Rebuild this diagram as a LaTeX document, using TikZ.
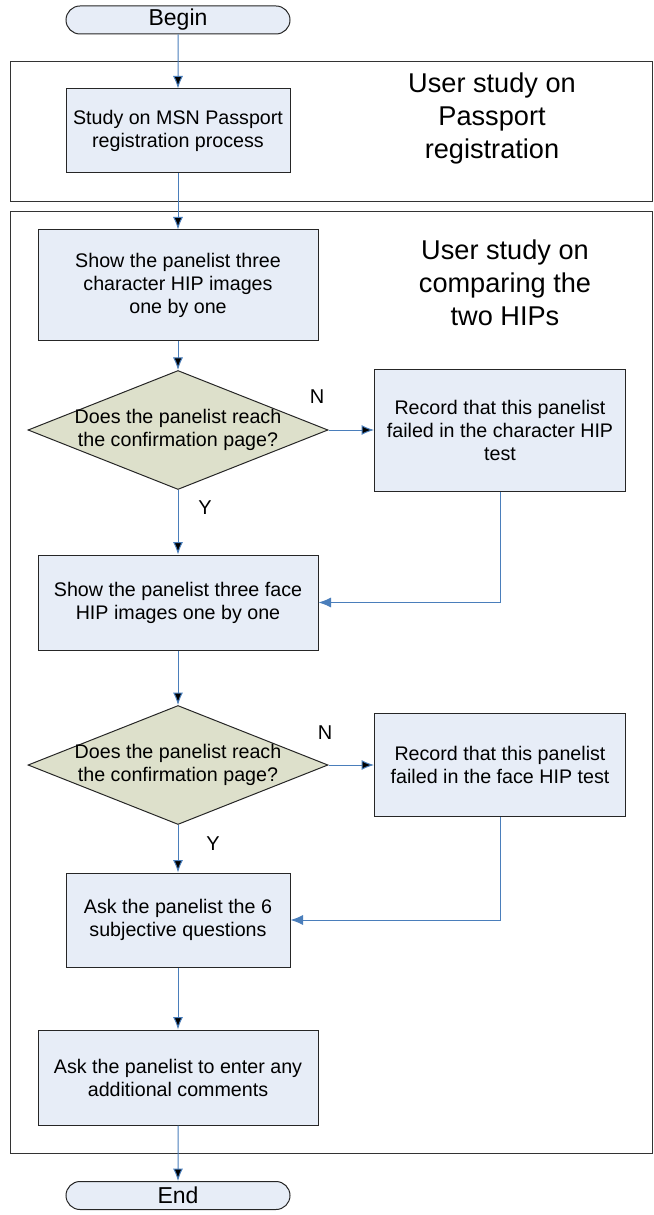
\documentclass[tikz,border=0pt]{standalone}
\usepackage{fontspec}
\setmainfont{Liberation Sans}
\usepackage{xcolor}
\usepackage{tikz}
\usetikzlibrary{arrows.meta}
\usetikzlibrary{shapes.geometric,shapes.misc}
\usetikzlibrary{positioning}
\definecolor{boxfill}{HTML}{E7EDF7}
\definecolor{testfill}{HTML}{DDE0CB}
\definecolor{flowblue}{HTML}{4A7EBB}

\begin{document}
\begin{tikzpicture}[x=0.6pt,y=-0.6pt,>={Latex[length=7.5pt,width=6pt]}]
 				 \tikzstyle{term}=[draw=black!85, line width=0.6pt, fill=boxfill, rounded rectangle, minimum width=134.4pt, minimum height=16.8pt, inner sep=0pt, font=\fontsize{13.8}{16}\selectfont]
 				 \tikzstyle{proc}=[draw=black!85, line width=0.6pt, fill=boxfill, rectangle, align=center, inner sep=0pt, font=\fontsize{11.8}{13.8}\selectfont]
 				 \tikzstyle{test}=[draw=black!85, line width=0.6pt, fill=testfill, diamond, minimum width=180pt, minimum height=71.4pt, inner sep=0pt]
 				 \tikzstyle{title}=[align=center, font=\fontsize{16.3}{19.8}\selectfont]
 				 \tikzstyle{yn}=[font=\fontsize{12}{14}\selectfont]
 				 \tikzstyle{flow}=[draw=flowblue, line width=0.6pt, ->]
 				 \tikzstyle{frame}=[draw=black!80, line width=0.6pt]
 				 \useasboundingbox (0,0) rectangle (653,1215);
 				 % the two study frames
 				 \draw[frame] (10,62) rectangle (652,202);
 				 \draw[frame] (10,212) rectangle (652,1153);
 					 \node[term]		  (begin) at (178,20) {Begin};
 					 \node[proc, minimum width=134.4pt, minimum height=50.4pt] (msn) at (178,131) {Study on MSN Passport\\registration process};
 					 \node[title]		  (title1) at (492,118) {User study on\\Passport\\registration};
 					 \node[proc, minimum width=168pt, minimum height=66.6pt] (charimg) at (178,285.5) {Show the panelist three\\character HIP images\\one by one};
 					 \node[title]		  (title2) at (505,283) {User study on\\comparing the\\two HIPs};
 					 \node[test, label={[align=center, font=\fontsize{11.8}{13.8}\selectfont]center:Does the panelist reach\\the confirmation page?}] (check1) at (178,430) {};
 					 \node[proc, minimum width=150.6pt, minimum height=73.2pt] (fail1) at (500,430) {Record that this panelist\\failed in the character HIP\\test};
 					 \node[proc, minimum width=168pt, minimum height=57pt] (faceimg) at (178,602.5) {Show the panelist three face\\HIP images one by one};
 					 \node[test, label={[align=center, font=\fontsize{11.8}{13.8}\selectfont]center:Does the panelist reach\\the confirmation page?}] (check2) at (178,765) {};
 					 \node[proc, minimum width=150.6pt, minimum height=61.8pt] (fail2) at (500,765) {Record that this panelist\\failed in the face HIP test};
 					 \node[proc, minimum width=134.4pt, minimum height=56.4pt] (ask) at (178,920) {Ask the panelist the 6\\subjective questions};
 					 \node[proc, minimum width=168pt, minimum height=57pt] (comments) at (178,1077.5) {Ask the panelist to enter any\\additional comments};
 					 \node[term]		  (end) at (178,1195.5) {End};
 					 % answers
 					 \node[yn] (no1) at (317,397) {N};
 					 \node[yn] (yes1) at (205,508) {Y};
 					 \node[yn] (no2) at (325,733) {N};
 					 \node[yn] (yes2) at (213,844) {Y};
 					  \path[flow]
 					 			(begin) edge (msn)
 					 			(msn) edge (charimg)
 					 			(charimg) edge (check1)
 					 			(check1) edge (fail1)
 					 			(check1) edge (faceimg)
 					 			(faceimg) edge (check2)
 					 			(check2) edge (fail2)
 					 			(check2) edge (ask)
 					 			(ask) edge (comments)
 					 			(comments) edge (end);
 					 \draw[flow] (fail1.south) |- (faceimg.east);
 					 \draw[flow] (fail2.south) |- (ask.east);
				\end{tikzpicture}
\end{document}
